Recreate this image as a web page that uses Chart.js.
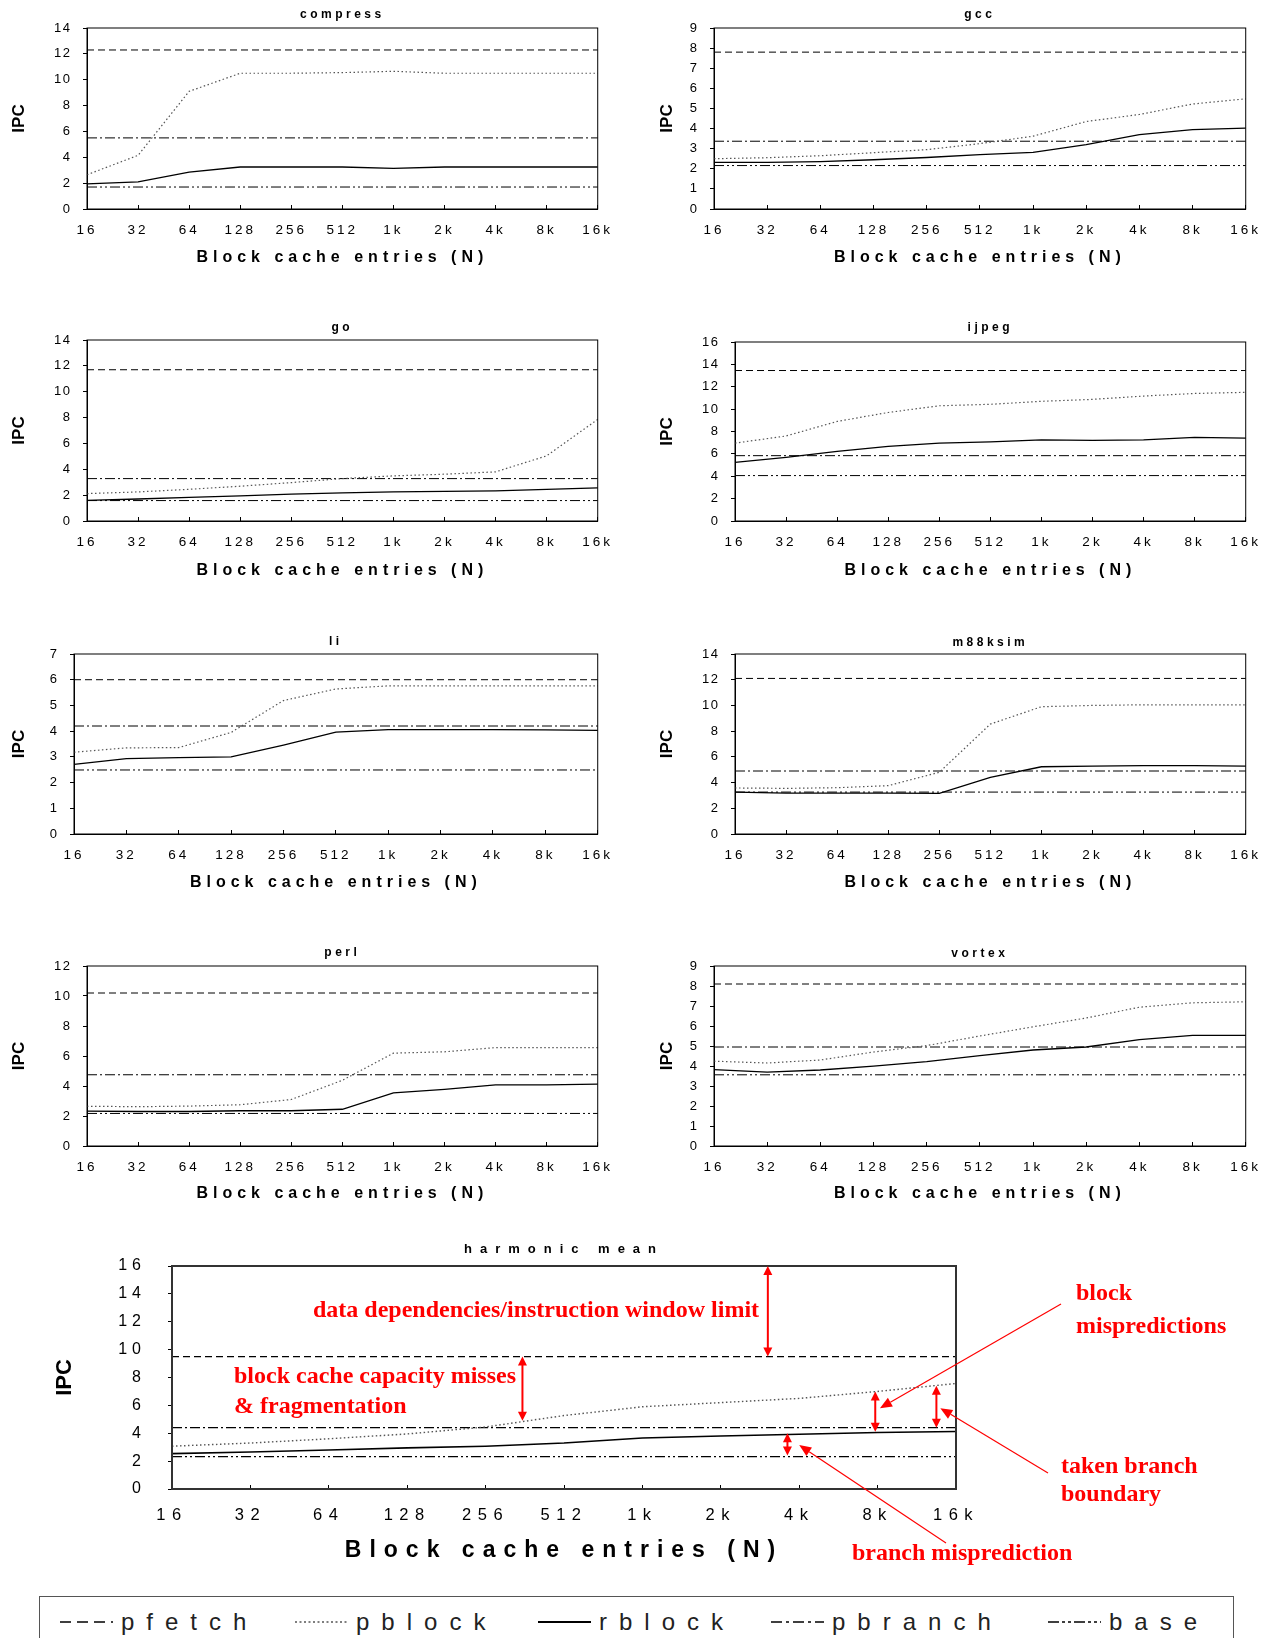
<!DOCTYPE html>
<html>
<head>
<meta charset="utf-8">
<title>IPC vs block cache entries</title>
<script src="https://cdn.jsdelivr.net/npm/chart.js@4.4.1/dist/chart.umd.min.js"></script>
<style>
  html, body { margin: 0; padding: 0; background: #fff; }
  body { position: relative; width: 1278px; height: 1638px; overflow: hidden; font-family: "Liberation Sans", Arial, sans-serif; }
  .box { position: absolute; }
  #legend { position: absolute; left: 39px; top: 1596px; width: 1195px; height: 60px; border: 1px solid #555; box-sizing: border-box; }
  .legend-item { position: absolute; top: 10px; height: 30px; display: flex; align-items: center; white-space: nowrap; }
  .legend-item svg { margin-right: 8px; }
  .legend-item span { font-size: 24px; letter-spacing: 12px; color: #222; }
</style>
</head>
<body>
<div id="legend"></div>
<script>
const sizeLabels = ['16', '32', '64', '128', '256', '512', '1k', '2k', '4k', '8k', '16k'];
const benchmarks = ['compress', 'gcc', 'go', 'ijpeg', 'li', 'm88ksim', 'perl', 'vortex', 'harmonic mean'];

// flat limits, one value per benchmark (same order as benchmarks)
const pfetchIPC  = [12.3, 7.8, 11.7, 13.45, 6.0, 12.1, 10.2, 8.1, 9.5];
const pbranchIPC = [5.5, 3.37, 3.28, 5.84, 4.2, 4.9, 4.75, 4.95, 4.4];
const baseIPC    = [1.7, 2.16, 1.58, 4.06, 2.49, 3.26, 2.17, 3.56, 2.32];

// pblock / rblock per block cache size
const compressPblock = [2.65, 4.15, 9.1, 10.5, 10.5, 10.55, 10.65, 10.5, 10.5, 10.5, 10.5];
const compressRblock = [1.95, 2.1, 2.85, 3.25, 3.25, 3.25, 3.15, 3.25, 3.25, 3.25, 3.25];
const gccPblock = [2.5, 2.55, 2.65, 2.8, 2.95, 3.25, 3.62, 4.35, 4.7, 5.22, 5.48];
const gccRblock = [2.32, 2.32, 2.36, 2.45, 2.56, 2.7, 2.82, 3.2, 3.7, 3.95, 4.02];
const goPblock = [2.12, 2.25, 2.45, 2.69, 2.97, 3.28, 3.49, 3.62, 3.8, 5.04, 7.86];
const goRblock = [1.6, 1.7, 1.82, 1.94, 2.08, 2.17, 2.25, 2.29, 2.33, 2.45, 2.56];
const ijpegPblock = [6.96, 7.6, 8.9, 9.7, 10.3, 10.43, 10.7, 10.87, 11.17, 11.4, 11.5];
const ijpegRblock = [5.24, 5.69, 6.22, 6.67, 6.96, 7.08, 7.26, 7.2, 7.26, 7.47, 7.4];
const liPblock = [3.18, 3.35, 3.36, 3.95, 5.19, 5.64, 5.76, 5.76, 5.76, 5.76, 5.76];
const liRblock = [2.71, 2.93, 2.97, 3.0, 3.46, 3.96, 4.06, 4.06, 4.06, 4.05, 4.03];
const m88ksimPblock = [3.58, 3.55, 3.6, 3.76, 4.8, 8.55, 9.9, 10.0, 10.05, 10.05, 10.05];
const m88ksimRblock = [3.26, 3.18, 3.18, 3.18, 3.16, 4.4, 5.23, 5.28, 5.32, 5.32, 5.28];
const perlPblock = [2.65, 2.62, 2.66, 2.75, 3.1, 4.38, 6.19, 6.28, 6.56, 6.56, 6.56];
const perlRblock = [2.32, 2.3, 2.3, 2.35, 2.35, 2.45, 3.54, 3.78, 4.07, 4.07, 4.13];
const vortexPblock = [4.24, 4.15, 4.3, 4.7, 5.02, 5.5, 5.96, 6.4, 6.94, 7.16, 7.21];
const vortexRblock = [3.82, 3.69, 3.8, 3.99, 4.22, 4.52, 4.8, 4.95, 5.32, 5.53, 5.53];
const meanPblock = [3.07, 3.3, 3.6, 3.95, 4.45, 5.27, 5.9, 6.2, 6.5, 7.0, 7.57];
const meanRblock = [2.54, 2.65, 2.8, 2.95, 3.07, 3.3, 3.66, 3.8, 3.93, 4.05, 4.12];

const pblockIPC = [compressPblock, gccPblock, goPblock, ijpegPblock, liPblock, m88ksimPblock, perlPblock, vortexPblock, meanPblock];
const rblockIPC = [compressRblock, gccRblock, goRblock, ijpegRblock, liRblock, m88ksimRblock, perlRblock, vortexRblock, meanRblock];

const yMax  = [14, 9, 14, 16, 7, 14, 12, 9, 16];
const yStep = [2, 1, 2, 2, 1, 2, 2, 1, 2];

const seriesNames = ['pfetch', 'pblock', 'rblock', 'pbranch', 'base'];
const seriesStyles = {
    pfetch:  { color: '#000', width: 1,   dash: [7, 4],                legendDash: [11, 6] },
    pblock:  { color: '#555', width: 1.2, dash: [1.5, 2.5],            legendDash: [2, 2.5] },
    rblock:  { color: '#000', width: 1.3, dash: [],                    legendDash: [] },
    pbranch: { color: '#000', width: 1,   dash: [10, 3, 2, 3],         legendDash: [11, 4, 3, 4] },
    base:    { color: '#000', width: 1,   dash: [10, 3, 2, 3, 2, 3],   legendDash: [11, 3, 3, 3, 3, 3] }
};

// page positions of each panel (plot box + label centres)
const frames = [
    { ipcX: 19,  plotL: 87,  plotR: 603,  titleY: 14,   plotT: 28,   plotB: 209,  tickY: 230,  xTitleY: 257 },
    { ipcX: 667, plotL: 714, plotR: 1251, titleY: 14,   plotT: 28,   plotB: 209,  tickY: 230,  xTitleY: 257 },
    { ipcX: 19,  plotL: 87,  plotR: 603,  titleY: 327,  plotT: 340,  plotB: 521,  tickY: 542,  xTitleY: 570 },
    { ipcX: 667, plotL: 735, plotR: 1251, titleY: 327,  plotT: 342,  plotB: 521,  tickY: 542,  xTitleY: 570 },
    { ipcX: 19,  plotL: 74,  plotR: 603,  titleY: 641,  plotT: 654,  plotB: 834,  tickY: 855,  xTitleY: 882 },
    { ipcX: 667, plotL: 735, plotR: 1251, titleY: 642,  plotT: 654,  plotB: 834,  tickY: 855,  xTitleY: 882 },
    { ipcX: 19,  plotL: 87,  plotR: 603,  titleY: 952,  plotT: 966,  plotB: 1146, tickY: 1167, xTitleY: 1193 },
    { ipcX: 667, plotL: 714, plotR: 1251, titleY: 953,  plotT: 966,  plotB: 1146, tickY: 1167, xTitleY: 1193 },
    { ipcX: 65,  plotL: 172, plotR: 956,  titleY: 1250, plotT: 1266, plotB: 1489, tickY: 1515, xTitleY: 1550, big: true }
];

const fontFamily = '"Liberation Sans", Arial, sans-serif';
const smallFonts = { title: 12, xTick: 13.5, yTick: 13, xTitle: 16, ipc: 17 };
const bigFonts = { title: 13, xTick: 16.5, yTick: 16, xTitle: 23, ipc: 22 };
// letter spacing by font size (px)
const smallSpacing = { 12: 3.5, 13.5: 3, 13: 1.5, 16: 5 };
const bigSpacing = { 13: 8, 16.5: 6.5, 16: 5, 23: 8 };

// harmonic mean notes (red)
const meanGaps = [
    { at: 7.6, from: 16, to: 9.5 },
    { at: 4.47, from: 9.5, to: 4.9 },
    { at: 8.97, from: 7.0, to: 4.1 },
    { at: 9.75, from: 7.4, to: 4.4 },
    { at: 7.85, from: 4.0, to: 2.4 }
];
const meanPointers = [
    { fromX: 1061, fromY: 1304, at: 9.03, level: 5.8 },
    { fromX: 1048, fromY: 1473, at: 9.8, level: 5.8 },
    { fromX: 946, fromY: 1543, at: 8.0, level: 3.15 }
];
const meanNotes = [
    { text: 'data dependencies/instruction window limit', x: 313, y: 1311, size: 24 },
    { text: 'block cache capacity misses', x: 234, y: 1377, size: 24 },
    { text: '& fragmentation', x: 234, y: 1407, size: 24 },
    { text: 'block', x: 1076, y: 1294, size: 24 },
    { text: 'mispredictions', x: 1076, y: 1327, size: 24 },
    { text: 'taken branch', x: 1061, y: 1467, size: 24 },
    { text: 'boundary', x: 1061, y: 1495, size: 24 },
    { text: 'branch misprediction', x: 852, y: 1554, size: 24 }
];

// canvas text has no letter-spacing option, so set it per font size
const spacingPlugin = {
    id: 'spacing',
    beforeInit(chart, args, opts) {
        const ctx = chart.ctx;
        const proto = CanvasRenderingContext2D.prototype;
        const setSpacing = c => {
            const m = /([\d.]+)px/.exec(c.font);
            const sp = m && opts.map[m[1]] !== undefined ? opts.map[m[1]] : 0;
            c.letterSpacing = sp + 'px';
        };
        ctx.fillText = function () { setSpacing(this); return proto.fillText.apply(this, arguments); };
        ctx.measureText = function () { setSpacing(this); return proto.measureText.apply(this, arguments); };
    }
};

const framePlugin = {
    id: 'frame',
    afterDatasetsDraw(chart, args, opts) {
        const { ctx, chartArea: a } = chart;
        ctx.save();
        ctx.strokeStyle = opts.color;
        ctx.lineWidth = opts.width;
        ctx.setLineDash([]);
        ctx.strokeRect(a.left, a.top, a.right - a.left, a.bottom - a.top);
        ctx.restore();
    }
};

function doubleArrow(ctx, x, y1, y2) {
    const top = Math.min(y1, y2), bot = Math.max(y1, y2);
    const head = 9, half = 4.5;
    ctx.beginPath();
    ctx.moveTo(x, top + head - 1);
    ctx.lineTo(x, bot - head + 1);
    ctx.stroke();
    ctx.beginPath();
    ctx.moveTo(x, top); ctx.lineTo(x - half, top + head); ctx.lineTo(x + half, top + head);
    ctx.closePath(); ctx.fill();
    ctx.beginPath();
    ctx.moveTo(x, bot); ctx.lineTo(x - half, bot - head); ctx.lineTo(x + half, bot - head);
    ctx.closePath(); ctx.fill();
}

function pointer(ctx, x1, y1, x2, y2) {
    const ang = Math.atan2(y2 - y1, x2 - x1);
    const len = 12, half = 5;
    const bx = x2 - len * Math.cos(ang), by = y2 - len * Math.sin(ang);
    ctx.beginPath();
    ctx.moveTo(x1, y1);
    ctx.lineTo(bx, by);
    ctx.stroke();
    ctx.beginPath();
    ctx.moveTo(x2, y2);
    ctx.lineTo(bx + half * Math.sin(ang), by - half * Math.cos(ang));
    ctx.lineTo(bx - half * Math.sin(ang), by + half * Math.cos(ang));
    ctx.closePath(); ctx.fill();
}

const notesPlugin = {
    id: 'notes',
    afterDraw(chart, args, opts) {
        if (!opts.show) return;
        const { ctx } = chart;
        const xs = chart.scales.x, ys = chart.scales.y;
        ctx.save();
        ctx.setLineDash([]);
        ctx.fillStyle = '#f00';
        ctx.strokeStyle = '#f00';
        ctx.lineWidth = 2;
        meanGaps.forEach(g => doubleArrow(ctx, xs.getPixelForValue(g.at), ys.getPixelForValue(g.from), ys.getPixelForValue(g.to)));
        ctx.lineWidth = 1.2;
        meanPointers.forEach(p => pointer(ctx, p.fromX - opts.left, p.fromY - opts.top,
            xs.getPixelForValue(p.at), ys.getPixelForValue(p.level)));
        ctx.textBaseline = 'middle';
        ctx.textAlign = 'left';
        meanNotes.forEach(n => {
            ctx.font = 'bold ' + n.size + 'px "Liberation Serif", "Times New Roman", serif';
            ctx.fillText(n.text, n.x - opts.left, n.y - opts.top);
        });
        ctx.restore();
    }
};

function flatLine(v) {
    return [{ x: sizeLabels[0], y: v }, { x: sizeLabels[sizeLabels.length - 1], y: v }];
}

function buildChart(i) {
    const f = frames[i];
    const fs = f.big ? bigFonts : smallFonts;
    const lh = s => s * 1.2;

    // canvas box from the wanted label positions
    // (big panel: extra room above the title, y tick padding counts as top padding)
    const titlePadTop = f.big ? 8 : 2;
    const ct = Math.round(f.titleY - titlePadTop - lh(fs.title) / 2);
    const padBottom = f.big ? 20 : 0;
    const cb = Math.round(f.xTitleY + lh(fs.xTitle) / 2 + padBottom);
    const cl = Math.round(f.ipcX - lh(fs.ipc) / 2 - 4);
    const padRight = f.big ? 1278 - f.plotR : 27;
    const cw = f.plotR + padRight - cl;
    const ch = cb - ct;
    const titlePadBottom = f.plotT - ct - titlePadTop - lh(fs.title);
    const xAxisHeight = cb - padBottom - f.plotB;
    const xTickPad = f.tickY - f.plotB - lh(fs.xTick) / 2 + 4;
    const yTickPad = f.big ? 22 : 11.5;
    const yAxisWidth = f.plotL - cl;

    const wrap = document.createElement('div');
    wrap.className = 'box';
    wrap.style.left = cl + 'px';
    wrap.style.top = ct + 'px';
    wrap.style.width = cw + 'px';
    wrap.style.height = ch + 'px';
    const canvas = document.createElement('canvas');
    wrap.appendChild(canvas);
    document.body.appendChild(wrap);

    const flat = { pfetch: pfetchIPC[i], pbranch: pbranchIPC[i], base: baseIPC[i] };
    const datasets = seriesNames.map(name => {
        const st = seriesStyles[name];
        const data = name === 'pblock' ? pblockIPC[i] : name === 'rblock' ? rblockIPC[i] : flatLine(flat[name]);
        return {
            label: name,
            data: data,
            borderColor: st.color,
            borderWidth: f.big ? st.width * 1.2 : st.width,
            borderDash: st.dash,
            pointRadius: 0,
            fill: false,
            tension: 0
        };
    });

    new Chart(canvas.getContext('2d'), {
        type: 'line',
        data: { labels: sizeLabels, datasets: datasets },
        plugins: [spacingPlugin, framePlugin, notesPlugin],
        options: {
            responsive: true,
            maintainAspectRatio: false,
            animation: false,
            layout: { padding: { left: 0, top: 0, right: padRight, bottom: padBottom } },
            plugins: {
                legend: { display: false },
                tooltip: { enabled: false },
                title: {
                    display: true,
                    text: benchmarks[i],
                    fullSize: false,
                    color: '#000',
                    font: { family: fontFamily, size: fs.title, weight: 'bold' },
                    padding: { top: titlePadTop, bottom: titlePadBottom }
                },
                spacing: { map: f.big ? bigSpacing : smallSpacing },
                frame: { color: f.big ? '#333' : '#000', width: f.big ? 2 : 1 },
                notes: { show: !!f.big, left: cl, top: ct }
            },
            scales: {
                x: {
                    type: 'category',
                    offset: false,
                    afterFit: s => { s.height = xAxisHeight; },
                    grid: { display: true, drawOnChartArea: false, drawTicks: true, tickLength: -4, color: '#000' },
                    border: { display: true, color: '#000' },
                    ticks: {
                        autoSkip: false, maxRotation: 0, color: '#000', padding: xTickPad,
                        font: { family: fontFamily, size: fs.xTick }
                    },
                    title: {
                        display: true, text: 'Block cache entries (N)', color: '#000',
                        font: { family: fontFamily, size: fs.xTitle, weight: 'bold' },
                        padding: { top: 0, bottom: 0 }
                    }
                },
                y: {
                    min: 0,
                    max: yMax[i],
                    afterFit: s => { s.width = yAxisWidth; },
                    grid: { display: true, drawOnChartArea: false, drawTicks: true, tickLength: 4, color: '#000' },
                    border: { display: true, color: '#000' },
                    ticks: {
                        stepSize: yStep[i], color: '#000', padding: yTickPad,
                        font: { family: fontFamily, size: fs.yTick }
                    },
                    title: {
                        display: true, text: 'IPC', color: '#000',
                        font: { family: fontFamily, size: fs.ipc, weight: 'bold' },
                        padding: { top: 4, bottom: 0 }
                    }
                }
            }
        }
    });
}

document.addEventListener('DOMContentLoaded', () => {
    if (typeof Chart === 'undefined') return;
    benchmarks.forEach((b, i) => buildChart(i));

    // shared legend at the bottom
    const legendLeft = [60, 295, 538, 771, 1048];
    const legendEl = document.getElementById('legend');
    seriesNames.forEach((name, k) => {
        const st = seriesStyles[name];
        const item = document.createElement('div');
        item.className = 'legend-item';
        item.style.left = (legendLeft[k] - 40) + 'px';
        const w = name === 'rblock' ? 2 : 1.3;
        item.innerHTML = '<svg width="53" height="8"><line x1="0" y1="4" x2="53" y2="4" stroke="' + st.color +
            '" stroke-width="' + w + '" stroke-dasharray="' + (st.legendDash.length ? st.legendDash.join(' ') : 'none') +
            '"/></svg><span>' + name + '</span>';
        legendEl.appendChild(item);
    });
});
</script>
</body>
</html>
